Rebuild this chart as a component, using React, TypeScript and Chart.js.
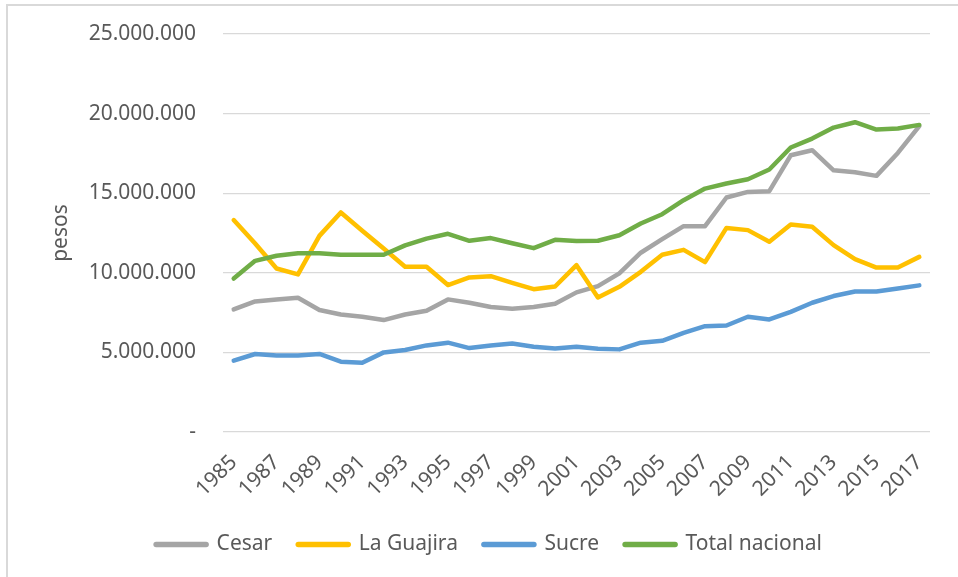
import React, { useEffect, useRef } from "react";
import { Chart, registerables } from "chart.js";

Chart.register(...registerables);

const years = [
  "1985", "1986", "1987", "1988", "1989", "1990", "1991", "1992", "1993", "1994", "1995",
  "1996", "1997", "1998", "1999", "2000", "2001", "2002", "2003", "2004", "2005", "2006",
  "2007", "2008", "2009", "2010", "2011", "2012", "2013", "2014", "2015", "2016", "2017",
];

const cesar = [
  7700000, 8200000, 8330000, 8430000, 7660000, 7380000, 7240000, 7030000, 7380000, 7620000, 8330000,
  8120000, 7850000, 7740000, 7850000, 8050000, 8770000, 9160000, 9960000, 11260000, 12110000, 12930000,
  12930000, 14730000, 15080000, 15130000, 17380000, 17700000, 16440000, 16320000, 16090000, 17530000, 19210000,
];

const laGuajira = [
  13310000, 11840000, 10270000, 9900000, 12320000, 13790000, 12640000, 11530000, 10380000, 10380000, 9230000,
  9710000, 9790000, 9370000, 8970000, 9140000, 10480000, 8450000, 9120000, 10060000, 11130000, 11440000,
  10670000, 12820000, 12680000, 11950000, 13030000, 12890000, 11740000, 10860000, 10330000, 10330000, 11000000,
];

const sucre = [
  4480000, 4900000, 4810000, 4810000, 4900000, 4420000, 4350000, 5000000, 5150000, 5440000, 5610000,
  5270000, 5440000, 5560000, 5360000, 5250000, 5360000, 5230000, 5190000, 5610000, 5730000, 6230000,
  6650000, 6690000, 7240000, 7070000, 7550000, 8120000, 8540000, 8830000, 8830000, 9020000, 9210000,
];

const totalNacional = [
  9640000, 10750000, 11070000, 11230000, 11230000, 11130000, 11130000, 11130000, 11720000, 12150000, 12450000,
  12010000, 12180000, 11860000, 11550000, 12070000, 11990000, 12010000, 12360000, 13100000, 13680000, 14560000,
  15290000, 15610000, 15880000, 16490000, 17870000, 18430000, 19120000, 19460000, 19000000, 19060000, 19290000,
];

const seriesNames = ["Cesar", "La Guajira", "Sucre", "Total nacional"];
const seriesColors = ["#A5A5A5", "#FFC000", "#5B9BD5", "#70AD47"];

const FONT = "'Noto Sans', 'Liberation Sans', sans-serif";
const TEXT = "#595959";

function formatPesos(v: number): string {
  if (v === 0) return "-";
  return Math.round(v)
    .toString()
    .replace(/\B(?=(\d{3})+(?!\d))/g, ".");
}

export default function App() {
  const canvasRef = useRef<HTMLCanvasElement | null>(null);

  useEffect(() => {
    if (!canvasRef.current) return;
    const seriesData = [cesar, laGuajira, sucre, totalNacional];
    const chart = new Chart(canvasRef.current, {
      type: "line",
      data: {
        labels: years,
        datasets: seriesNames.map((name, i) => ({
          label: name,
          data: seriesData[i],
          borderColor: seriesColors[i],
          backgroundColor: seriesColors[i],
          borderWidth: 4.5,
          pointRadius: 0,
          pointHoverRadius: 0,
          tension: 0,
          borderCapStyle: "round" as const,
          borderJoinStyle: "round" as const,
          fill: false,
          order: 4 - i,
        })),
      },
      options: {
        responsive: false,
        animation: false,
        maintainAspectRatio: false,
        layout: { autoPadding: false, padding: { left: 48, right: 28, top: 34, bottom: 12 } },
        plugins: {
          tooltip: { enabled: false },
          legend: {
            position: "bottom",
            reverse: true,
            labels: {
              usePointStyle: true,
              pointStyle: "line",
              pointStyleWidth: 50,
              boxHeight: 20,
              padding: 26,
              color: TEXT,
              font: { family: FONT, size: 21 },
              generateLabels: (c: any) =>
                Chart.defaults.plugins.legend.labels.generateLabels(c).map((it: any) => ({
                  ...it,
                  lineWidth: 5.5,
                  lineCap: "round",
                })),
            },
          },
        },
        scales: {
          x: {
            type: "category",
            offset: true,
            grid: { display: false, drawTicks: false },
            border: { display: false },
            afterFit: (axis: any) => {
              axis.height = 76;
              axis.paddingLeft = 0;
              axis.paddingRight = 0;
            },
            ticks: {
              autoSkip: false,
              maxRotation: 45,
              minRotation: 45,
              padding: 18,
              color: TEXT,
              font: { family: FONT, size: 21 },
              callback: (_v: any, idx: number) => (idx % 2 === 0 ? years[idx] : ""),
            },
          },
          y: {
            min: 0,
            max: 25000000,
            grid: { color: "#D9D9D9", lineWidth: 1.3, drawTicks: false },
            border: { display: false },
            afterFit: (axis: any) => {
              axis.width = 175;
              axis.paddingTop = 0;
              axis.paddingBottom = 0;
            },
            ticks: {
              stepSize: 5000000,
              padding: 27,
              color: TEXT,
              font: { family: FONT, size: 21 },
              callback: (v: any) => formatPesos(Number(v)),
            },
            title: {
              display: true,
              text: "pesos",
              color: TEXT,
              font: { family: FONT, size: 21 },
              padding: { top: 0, bottom: 0 },
            },
          },
        },
      },
    });
    return () => chart.destroy();
  }, []);

  return (
    <div style={{ position: "fixed", left: 0, top: 0, width: 958, height: 577, background: "#fff", overflow: "hidden" }}>
      <div
        style={{
          position: "absolute",
          left: 6,
          top: 4,
          width: 1000,
          height: 1000,
          borderLeft: "2px solid #D9D9D9",
          borderTop: "2px solid #D9D9D9",
        }}
      />
      <canvas ref={canvasRef} width={958} height={577} style={{ position: "absolute", left: 0, top: 0, width: 958, height: 577 }} />
    </div>
  );
}
